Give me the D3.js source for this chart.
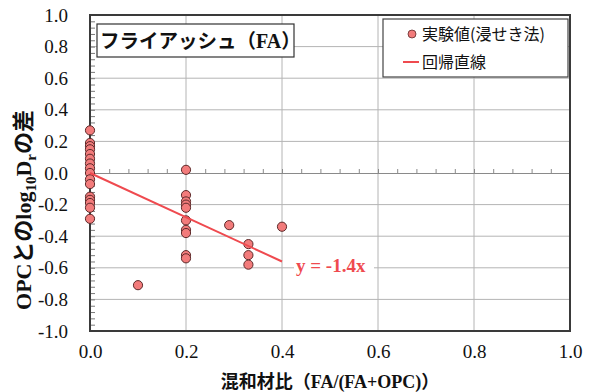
<!DOCTYPE html>
<html>
<head>
<meta charset="utf-8">
<script src="https://cdn.jsdelivr.net/npm/d3@7"></script>
<style>
  html, body { margin: 0; padding: 0; background: #fff; }
  svg { display: block; }
</style>
</head>
<body>
<svg id="chart" width="592" height="392"></svg>
<script>
// 混和材比 (FA/(FA+OPC)) for each specimen
const faRatio = [
  0, 0, 0, 0, 0, 0, 0, 0, 0, 0, 0, 0, 0, 0, 0, 0,
  0.2, 0.2, 0.2, 0.2, 0.2, 0.2, 0.2, 0.2, 0.2, 0.2,
  0.1, 0.29, 0.33, 0.33, 0.33, 0.4
];
// OPCとのlog10Drの差 (浸せき法)
const logDrDiff = [
  0.27, 0.19, 0.17, 0.15, 0.12, 0.09, 0.06, 0.03, 0.0, -0.04, -0.07, -0.15, -0.17, -0.19, -0.22, -0.29,
  0.02, -0.14, -0.18, -0.20, -0.22, -0.30, -0.36, -0.38, -0.52, -0.54,
  -0.71, -0.33, -0.45, -0.52, -0.58, -0.34
];
// Regression y = slope * x, drawn over the fitted range
const slope = -1.4;
const fitRange = [0, 0.4];
const xTicks = [0, 0.2, 0.4, 0.6, 0.8, 1.0];
const yTicks = [-1.0, -0.8, -0.6, -0.4, -0.2, 0.0, 0.2, 0.4, 0.6, 0.8, 1.0];
const minorStep = 0.04;

const titleText = "フライアッシュ";
const legendPoints = "実験値(浸せき法)";
const legendLine = "回帰直線";

const serif = "'Liberation Serif', 'Times New Roman', serif";
const gothic = "'Noto Sans CJK JP', 'Noto Sans', sans-serif";
const markerFill = "#f27b7b";
const markerStroke = "#5e2a2a";
const lineRed = "#ef4a4f";
const gridColor = "#b4b4b4";
const frameColor = "#3a3a3a";

const svg = d3.select("#chart");
const x = d3.scaleLinear().domain([0, 1]).range([90, 570]);
const y = d3.scaleLinear().domain([-1, 1]).range([331, 15]);
const fmt = d => (Math.abs(d) < 1e-9 ? 0 : d).toFixed(1);

// grid lines
const g = svg.append("g");
g.selectAll("line.vg").data(xTicks.slice(1, -1)).join("line")
  .attr("x1", d => x(d)).attr("x2", d => x(d))
  .attr("y1", y(1)).attr("y2", y(-1))
  .attr("stroke", gridColor).attr("stroke-width", 1);
g.selectAll("line.hg").data(yTicks.filter(d => Math.abs(d) > 1e-9 && Math.abs(d) < 0.99)).join("line")
  .attr("x1", x(0)).attr("x2", x(1))
  .attr("y1", d => y(d)).attr("y2", d => y(d))
  .attr("stroke", gridColor).attr("stroke-width", 1);

// horizontal axis crossing at zero, with minor ticks
svg.append("g")
  .attr("transform", `translate(0,${y(0)})`)
  .call(d3.axisTop(x).tickValues(d3.range(0, 1.0001, minorStep)).tickSize(4).tickFormat(""))
  .call(a => a.select(".domain").attr("stroke", "#8a8a8a"))
  .call(a => a.selectAll(".tick line").attr("stroke", "#8a8a8a"));

// left axis minor ticks pointing inward
svg.append("g")
  .attr("transform", `translate(${x(0)},0)`)
  .call(d3.axisRight(y).tickValues(d3.range(-1, 1.0001, minorStep)).tickSize(5).tickFormat(""))
  .call(a => a.select(".domain").remove())
  .call(a => a.selectAll(".tick line").attr("stroke", "#7a7a7a"));

// plot frame
svg.append("rect")
  .attr("x", x(0)).attr("y", y(1))
  .attr("width", x(1) - x(0)).attr("height", y(-1) - y(1))
  .attr("fill", "none").attr("stroke", frameColor).attr("stroke-width", 2);

// tick labels
svg.append("g")
  .attr("transform", `translate(0,${y(-1)})`)
  .call(d3.axisBottom(x).tickValues(xTicks).tickSize(0).tickPadding(14).tickFormat(fmt))
  .call(a => a.select(".domain").remove())
  .call(a => a.selectAll("text").attr("font-family", serif).attr("font-size", 19).attr("fill", "#111"));
svg.append("g")
  .attr("transform", `translate(${x(0)},0)`)
  .call(d3.axisLeft(y).tickValues(yTicks).tickSize(0).tickPadding(22).tickFormat(fmt))
  .call(a => a.select(".domain").remove())
  .call(a => a.selectAll("text").attr("font-family", serif).attr("font-size", 19).attr("fill", "#111"));

// data points
svg.append("g").selectAll("circle").data(faRatio.map((v, i) => [v, logDrDiff[i]])).join("circle")
  .attr("cx", d => x(d[0])).attr("cy", d => y(d[1])).attr("r", 4.6)
  .attr("fill", markerFill).attr("stroke", markerStroke).attr("stroke-width", 1);

// regression line
svg.append("line")
  .attr("x1", x(fitRange[0])).attr("y1", y(slope * fitRange[0]))
  .attr("x2", x(fitRange[1])).attr("y2", y(slope * fitRange[1]))
  .attr("stroke", lineRed).attr("stroke-width", 2);

// regression equation label
const eqX = x(fitRange[1]) + 14, eqY = y(slope * fitRange[1]) + 11;
svg.append("rect").attr("x", eqX - 2).attr("y", eqY - 16).attr("width", 80).attr("height", 21).attr("fill", "#fff");
svg.append("text").attr("x", eqX).attr("y", eqY)
  .attr("font-family", serif).attr("font-weight", "bold").attr("font-size", 19).attr("fill", lineRed)
  .text(`y = ${slope}x`);

// title box
svg.append("rect").attr("x", 97).attr("y", 24).attr("width", 197).attr("height", 33)
  .attr("fill", "#fff").attr("stroke", "#333").attr("stroke-width", 1.2);
const title = svg.append("text").attr("x", 100).attr("y", 48).attr("font-weight", "bold").attr("font-size", 19.5).attr("fill", "#111");
title.append("tspan").attr("font-family", gothic).text(titleText + "（");
title.append("tspan").attr("font-family", serif).attr("font-size", 20).text("FA");
title.append("tspan").attr("font-family", gothic).text("）");

// legend
svg.append("rect").attr("x", 383).attr("y", 19).attr("width", 185).attr("height", 58)
  .attr("fill", "#fff").attr("stroke", "#444").attr("stroke-width", 1.2);
svg.append("circle").attr("cx", 412).attr("cy", 34).attr("r", 4)
  .attr("fill", markerFill).attr("stroke", markerStroke).attr("stroke-width", 0.8);
svg.append("text").attr("x", 422).attr("y", 40).attr("font-family", gothic).attr("font-size", 16).attr("fill", "#111").text(legendPoints);
svg.append("line").attr("x1", 403).attr("x2", 419).attr("y1", 62).attr("y2", 62).attr("stroke", lineRed).attr("stroke-width", 2);
svg.append("text").attr("x", 422).attr("y", 68).attr("font-family", gothic).attr("font-size", 16).attr("fill", "#111").text(legendLine);

// x axis title
const xt = svg.append("text").attr("x", 330).attr("y", 388).attr("text-anchor", "middle")
  .attr("font-weight", "bold").attr("font-size", 18).attr("fill", "#111");
xt.append("tspan").attr("font-family", gothic).text("混和材比（");
xt.append("tspan").attr("font-family", serif).text("FA/(FA+OPC)");
xt.append("tspan").attr("font-family", gothic).text("）");

// y axis title
const yt = svg.append("text").attr("transform", "translate(31,210) rotate(-90)").attr("text-anchor", "middle")
  .attr("font-weight", "bold").attr("font-size", 22).attr("fill", "#111");
yt.append("tspan").attr("font-family", serif).text("OPC");
yt.append("tspan").attr("font-family", gothic).text("との");
yt.append("tspan").attr("font-family", serif).text("log");
yt.append("tspan").attr("font-family", serif).attr("font-size", 15).attr("dy", 5).text("10");
yt.append("tspan").attr("font-family", serif).attr("dy", -5).text("D");
yt.append("tspan").attr("font-family", serif).attr("font-size", 15).attr("dy", 5).text("r");
yt.append("tspan").attr("font-family", gothic).attr("dy", -5).text("の差");
</script>
</body>
</html>
